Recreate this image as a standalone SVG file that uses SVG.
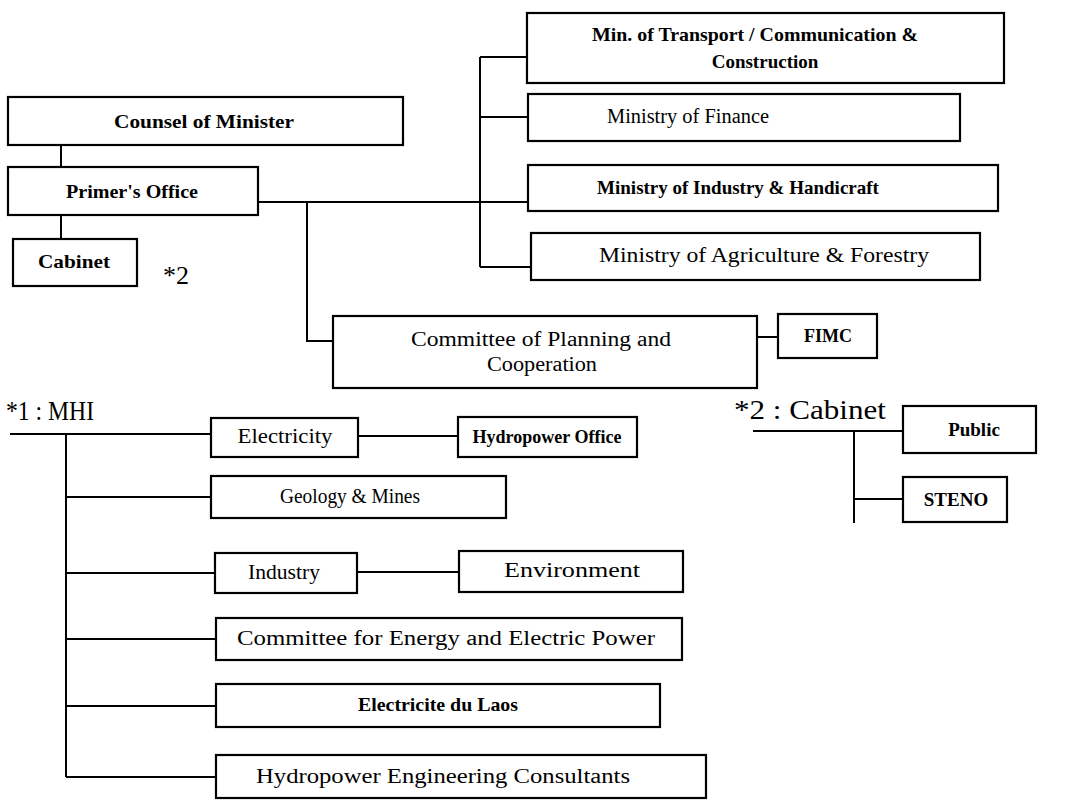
<svg xmlns="http://www.w3.org/2000/svg" width="1076" height="800" viewBox="0 0 1076 800">
<style>
.box{fill:#fff;stroke:#000;stroke-width:2.2}
.ln{stroke:#000;stroke-width:2;fill:none}
text{font-family:"Liberation Serif","Times New Roman",serif;fill:#000;text-anchor:middle;font-size:20px}
.b{font-weight:bold;font-size:19px}
.big{font-size:27px;text-anchor:start}
</style>
<rect width="1076" height="800" fill="#fff"/>
<g id="connectors">
<path class="ln" d="M61 145V167M61 215V239"/>
<path class="ln" d="M258 202H528M307 202V341H333"/>
<path class="ln" d="M757 337H778"/>
<path class="ln" d="M480 57V267M480 57H527M480 117H528M480 267H531"/>
<path class="ln" d="M10 434H211M66 434V777M66 497H211M66 573H215M66 639H216M66 706H216M66 777H216"/>
<path class="ln" d="M753 431H903M854 431V523M854 499H903"/>
<path class="ln" d="M358 436H458M357 572H459"/>
</g>
<g id="counsel"><rect class="box" x="8" y="97" width="395" height="48"/><text class="b" x="204" y="128" textLength="180" lengthAdjust="spacingAndGlyphs">Counsel of Minister</text></g>
<g id="primer"><rect class="box" x="8" y="167" width="250" height="48"/><text class="b" x="132" y="198" textLength="132" lengthAdjust="spacingAndGlyphs">Primer's Office</text></g>
<g id="cabinet"><rect class="box" x="13" y="239" width="124" height="47"/><text class="b" x="74" y="268" textLength="72" lengthAdjust="spacingAndGlyphs">Cabinet</text></g>
<text class="big" x="163" y="284" style="font-size:26px">*2</text>
<g id="transport"><rect class="box" x="527" y="13" width="477" height="70"/><text class="b" x="755" y="41" textLength="326" lengthAdjust="spacingAndGlyphs">Min. of Transport / Communication &amp;</text><text class="b" x="765" y="68">Construction</text></g>
<g id="finance"><rect class="box" x="528" y="94" width="432" height="47"/><text x="688" y="123" textLength="162" lengthAdjust="spacingAndGlyphs">Ministry of Finance</text></g>
<g id="industry"><rect class="box" x="528" y="165" width="470" height="46"/><text class="b" x="738" y="194">Ministry of Industry &amp; Handicraft</text></g>
<g id="agriculture"><rect class="box" x="531" y="233" width="449" height="47"/><text x="764" y="262" textLength="330" lengthAdjust="spacingAndGlyphs">Ministry of Agriculture &amp; Forestry</text></g>
<g id="committee"><rect class="box" x="333" y="316" width="424" height="72"/><text x="541" y="346" textLength="260" lengthAdjust="spacingAndGlyphs">Committee of Planning and</text><text x="542" y="371" textLength="110" lengthAdjust="spacingAndGlyphs">Cooperation</text></g>
<g id="fimc"><rect class="box" x="778" y="314" width="99" height="44"/><text class="b" x="828" y="342" style="font-size:18px">FIMC</text></g>
<text class="big" x="6" y="420" textLength="88" lengthAdjust="spacingAndGlyphs">*1 : MHI</text>
<g id="electricity"><rect class="box" x="211" y="418" width="147" height="39"/><text x="285" y="443" textLength="95" lengthAdjust="spacingAndGlyphs">Electricity</text></g>
<g id="hydro-office"><rect class="box" x="458" y="417" width="179" height="40"/><text class="b" x="547" y="443" style="font-size:18px">Hydropower Office</text></g>
<g id="geology"><rect class="box" x="211" y="476" width="295" height="42"/><text x="350" y="503" textLength="140" lengthAdjust="spacingAndGlyphs">Geology &amp; Mines</text></g>
<g id="industry2"><rect class="box" x="215" y="553" width="142" height="40"/><text x="284" y="579" textLength="72" lengthAdjust="spacingAndGlyphs">Industry</text></g>
<g id="environment"><rect class="box" x="459" y="551" width="224" height="41"/><text x="572" y="577" textLength="136" lengthAdjust="spacingAndGlyphs">Environment</text></g>
<g id="ceep"><rect class="box" x="216" y="618" width="466" height="42"/><text x="446" y="645" textLength="418" lengthAdjust="spacingAndGlyphs">Committee for Energy and Electric Power</text></g>
<g id="edl"><rect class="box" x="216" y="684" width="444" height="43"/><text class="b" x="438" y="711" textLength="160" lengthAdjust="spacingAndGlyphs">Electricite du Laos</text></g>
<g id="hec"><rect class="box" x="216" y="755" width="490" height="43"/><text x="443" y="783" textLength="374" lengthAdjust="spacingAndGlyphs">Hydropower Engineering Consultants</text></g>
<text class="big" x="734" y="419" textLength="152" lengthAdjust="spacingAndGlyphs">*2 : Cabinet</text>
<g id="public"><rect class="box" x="903" y="406" width="133" height="47"/><text class="b" x="974" y="436">Public</text></g>
<g id="steno"><rect class="box" x="903" y="477" width="104" height="45"/><text class="b" x="956" y="506">STENO</text></g>
</svg>
